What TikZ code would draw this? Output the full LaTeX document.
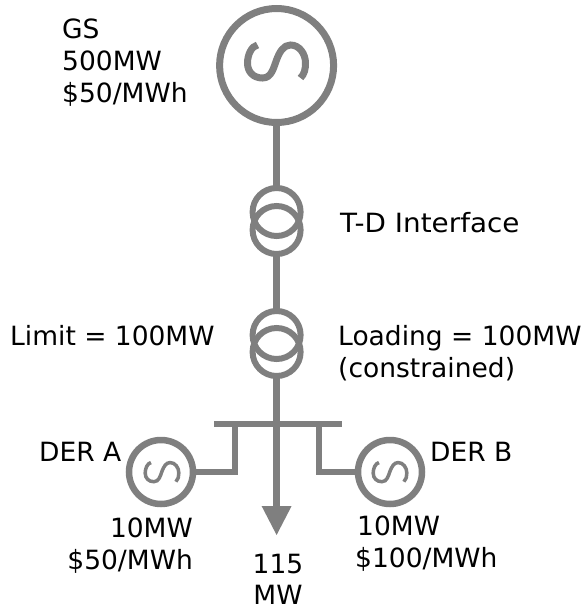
\documentclass[tikz,border=0pt]{standalone}
\usepackage{fontspec}
\usetikzlibrary{calc}
\setmainfont{DejaVu Sans}
\definecolor{symgray}{HTML}{7F7F7F}
\newcommand{\sinewave}[3]{%
\draw[symgray,line width=#3,shift={(#1)},scale=#2]
 (-19,-18) .. controls (-25,-17) and (-29,-8) .. (-29,0)
 .. controls (-29,9) and (-23,15) .. (-14,15)
 .. controls (-5,15) and (-3,5) .. (0,-3)
 .. controls (3,-11) and (7,-18) .. (14,-18)
 .. controls (23,-18) and (29,-9) .. (29,0)
 .. controls (29,6) and (28,11) .. (24,15);}
\tikzset{
 lab/.style={font=\fontsize{26.5}{32}\selectfont,text=black,inner sep=0pt,align=left,anchor=north west},
 bigcirc/.style={circle,draw=symgray,line width=7pt,minimum size=114pt,inner sep=0pt,outer sep=0pt},
 smallcirc/.style={circle,draw=symgray,line width=6.5pt,minimum size=64pt,inner sep=0pt,outer sep=0pt},
 xfmr/.style={circle,draw=symgray,line width=6pt,minimum size=48pt,inner sep=0pt,outer sep=0pt},
 wire/.style={draw=symgray,line width=6.5pt},
}
\begin{document}
\begin{tikzpicture}[x=1pt,y=-1pt]
\useasboundingbox (0,0) rectangle (583,608);
\node[bigcirc] (gs) at (276.6,65.5) {};
\sinewave{276.5,63}{1}{7pt}
\node[xfmr] (t1a) at (276.6,212) {};
\node[xfmr] (t1b) at (276.6,230) {};
\node[xfmr] (t2a) at (276.6,335) {};
\node[xfmr] (t2b) at (276.6,352) {};
\node[smallcirc] (dera) at (161,472) {};
\sinewave{162,473}{0.58}{3.5pt}
\node[smallcirc] (derb) at (390,472) {};
\sinewave{390,473}{0.58}{3.5pt}
\coordinate (busl) at (214,424);
\coordinate (busr) at (342,424);
\coordinate (busm) at (276.6,424);
\coordinate (stubl) at (235,424);
\coordinate (stubr) at (319,424);
\coordinate (tip) at (276.6,535);
\path[wire] (gs.south) -- (t1a.north);
\path[wire] (t1b.south) -- (t2a.north);
\path[wire] (t2b.south) -- (busm);
\path[wire] (busl) -- (busr);
\path[wire,line cap=rect] (dera.east) -- (dera.east -| stubl) -- (stubl);
\path[wire,line cap=rect] (derb.west) -- (derb.west -| stubr) -- (stubr);
\path[wire] (busm) -- ($(tip)+(0,-20)$);
\fill[symgray] (261.6,506) -- (291.6,506) -- (tip) -- cycle;
\node[lab] (lgs) at (62,19) {GS\\500MW\\\$50/MWh};
\node[lab] (ltd) at (340,212) {\addfontfeature{FakeStretch=1.05}T-D Interface};
\node[lab] (llim) at (10,325) {Limit = 100MW};
\node[lab] (lload) at (338,325) {Loading = 100MW\\(constrained)};
\node[lab] (lda) at (39,441.7) {DER A};
\node[lab] (ldb) at (430,441.7) {DER B};
\node[lab,align=right,anchor=north east] (lma) at (193,517.7) {10MW\\\$50/MWh};
\node[lab] (lmb) at (355,515.7) {\hspace*{2pt}10MW\\\$100/MWh};
\node[lab,align=center,anchor=north] (lload2) at (278,553.5) {115\\[-1pt]MW};
\end{tikzpicture}
\end{document}
